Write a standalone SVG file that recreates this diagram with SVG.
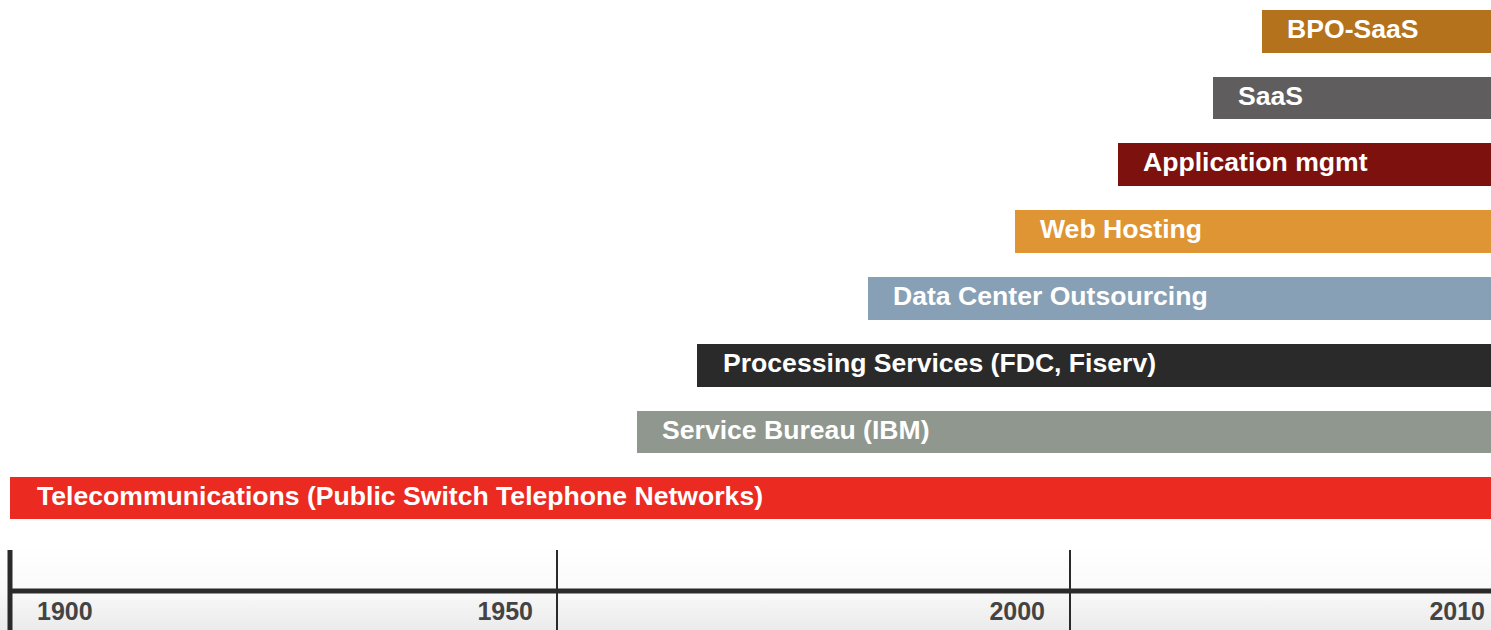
<svg xmlns="http://www.w3.org/2000/svg" width="1491" height="630" viewBox="0 0 1491 630">
<defs>
<linearGradient id="bg" x1="0" y1="0" x2="0" y2="1">
<stop offset="0" stop-color="#ffffff"/>
<stop offset="0.5" stop-color="#fafafa"/>
<stop offset="1" stop-color="#ebebeb"/>
</linearGradient>
<style>
.lbl{font-family:"Liberation Sans",Arial,sans-serif;font-weight:bold;font-size:26.6px;fill:#ffffff}
.yr{font-family:"Liberation Sans",Arial,sans-serif;font-weight:bold;font-size:25px;fill:#444444}
</style>
</defs>
<rect x="0" y="0" width="1491" height="630" fill="#ffffff"/>
<g id="bpo-saas"><rect x="1262" y="10" width="229" height="43" fill="#b5721c"/><text class="lbl" x="1287" y="38">BPO-SaaS</text></g>
<g id="saas"><rect x="1213" y="77" width="278" height="42" fill="#5f5d5e"/><text class="lbl" x="1238" y="105">SaaS</text></g>
<g id="app-mgmt"><rect x="1118" y="143" width="373" height="43" fill="#7d110d"/><text class="lbl" x="1143" y="171">Application mgmt</text></g>
<g id="web-hosting"><rect x="1015" y="210" width="476" height="43" fill="#e09535"/><text class="lbl" x="1040" y="238">Web Hosting</text></g>
<g id="data-center"><rect x="868" y="277" width="623" height="43" fill="#88a0b5"/><text class="lbl" x="893" y="305">Data Center Outsourcing</text></g>
<g id="processing"><rect x="697" y="344" width="794" height="43" fill="#2a2a2a"/><text class="lbl" x="723" y="372">Processing Services (FDC, Fiserv)</text></g>
<g id="service-bureau"><rect x="637" y="411" width="854" height="42" fill="#8f978e"/><text class="lbl" x="662" y="439">Service Bureau (IBM)</text></g>
<g id="telecom"><rect x="10" y="477" width="1481" height="42" fill="#eb2b22"/><text class="lbl" x="37" y="505">Telecommunications (Public Switch Telephone Networks)</text></g>
<g id="axis">
<rect x="0" y="545" width="1491" height="85" fill="url(#bg)"/>
<line x1="8" y1="591" x2="1491" y2="591" stroke="#2a2a2a" stroke-width="5"/>
<line x1="10" y1="550" x2="10" y2="630" stroke="#2a2a2a" stroke-width="5"/>
<line x1="557" y1="550" x2="557" y2="630" stroke="#2a2a2a" stroke-width="2"/>
<line x1="1070" y1="550" x2="1070" y2="630" stroke="#2a2a2a" stroke-width="2"/>
<text class="yr" x="37" y="620">1900</text>
<text class="yr" x="533" y="620" text-anchor="end">1950</text>
<text class="yr" x="1045" y="620" text-anchor="end">2000</text>
<text class="yr" x="1485" y="620" text-anchor="end">2010</text>
</g>
</svg>
